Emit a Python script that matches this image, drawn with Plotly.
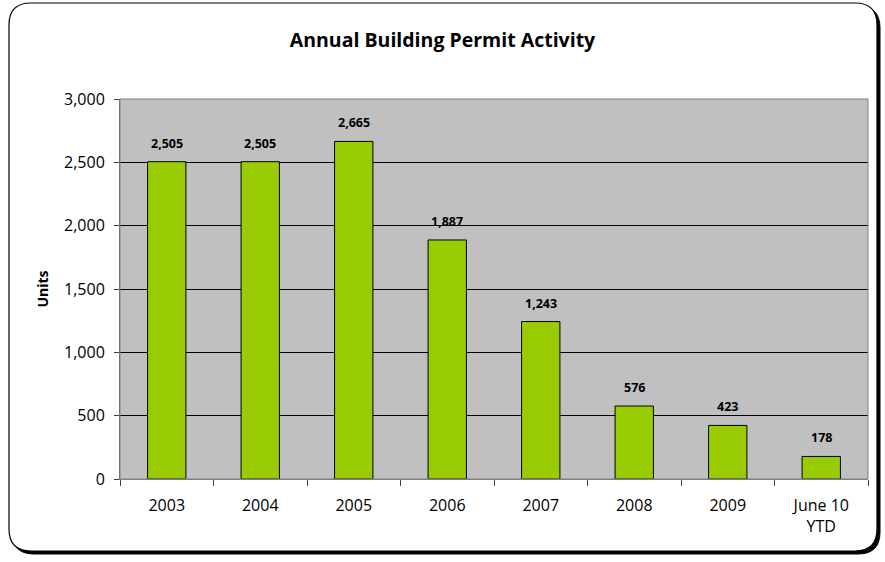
import plotly.graph_objects as go

categories = ["2003", "2004", "2005", "2006", "2007", "2008", "2009", "June 10<br>YTD"]
units = [2505, 2505, 2665, 1887, 1243, 576, 423, 178]
y_ticks = [0, 500, 1000, 1500, 2000, 2500, 3000]
y_tick_labels = ["0", "500", "1,000", "1,500", "2,000", "2,500", "3,000"]

W, H = 885, 562
L, R, T, B = 120, 868, 99, 479
pw, ph = R - L, B - T

def px(x):
    return (x - L) / pw

def py(y):
    return (B - y) / ph

def rounded(x0, y0, x1, y1, r):
    rx, ry = r / pw, r / ph
    a0, a1 = px(x0), px(x1)
    b0, b1 = py(y1), py(y0)
    return (f"M {a0+rx},{b1} L {a1-rx},{b1} Q {a1},{b1} {a1},{b1-ry} "
            f"L {a1},{b0+ry} Q {a1},{b0} {a1-rx},{b0} "
            f"L {a0+rx},{b0} Q {a0},{b0} {a0},{b0+ry} "
            f"L {a0},{b1-ry} Q {a0},{b1} {a0+rx},{b1} Z")

font_family = "'Open Sans', sans-serif"

fig = go.Figure(go.Bar(
    x=categories, y=units,
    marker=dict(color="#99CC00", line=dict(color="black", width=1)),
    hoverinfo="x+y",
))

# category axes place each category at its serial index
annotations = [
    dict(x=i, y=v, xref="x", yref="y", text=f"<b>{v:,}</b>", showarrow=False,
         yanchor="bottom", yshift=8,
         font=dict(family=font_family, size=12.5, color="black"))
    for i, v in enumerate(units)
]

shapes = [
    dict(type="path", path=rounded(12, 6, 880, 554, 22), xref="paper", yref="paper",
         fillcolor="black", line=dict(color="black", width=1), layer="below"),
    dict(type="path", path=rounded(9, 3, 877, 551, 22), xref="paper", yref="paper",
         fillcolor="white", line=dict(color="black", width=1.2), layer="below"),
    dict(type="rect", x0=0, x1=1, y0=0, y1=1, xref="paper", yref="paper",
         fillcolor="#C0C0C0", line=dict(width=0), layer="below"),
    dict(type="rect", x0=0, x1=1, y0=0, y1=1, xref="paper", yref="paper",
         fillcolor="rgba(0,0,0,0)", line=dict(color="#808080", width=1), layer="above"),
]

fig.update_layout(
    width=W, height=H,
    margin=dict(l=L, r=W - R, t=T, b=H - B),
    paper_bgcolor="rgba(0,0,0,0)", plot_bgcolor="rgba(0,0,0,0)",
    font=dict(family=font_family, size=15, color="black"),
    title=dict(text="<b>Annual Building Permit Activity</b>", x=0.5, xanchor="center",
               y=1 - 40 / H, yanchor="middle", xref="container", yref="container",
               font=dict(size=19.5, family=font_family)),
    bargap=0.59,
    showlegend=False,
    shapes=shapes,
    annotations=annotations,
    xaxis=dict(type="category", showgrid=False, ticks="outside", tickson="boundaries",
               ticklen=6, tickcolor="#404040", showline=True, linecolor="#808080",
               linewidth=1, ticklabelstandoff=12, tickfont=dict(size=16)),
    yaxis=dict(range=[0, 3000], tickvals=y_ticks, ticktext=y_tick_labels,
               showgrid=True, gridcolor="black", gridwidth=1, zeroline=False,
               ticks="outside", ticklen=5, tickcolor="#404040",
               showline=True, linecolor="#606060", linewidth=1,
               ticklabelstandoff=6, tickfont=dict(size=16),
               title=dict(text="<b>Units</b>", font=dict(size=14), standoff=12)),
)

fig.write_html("out.html")
